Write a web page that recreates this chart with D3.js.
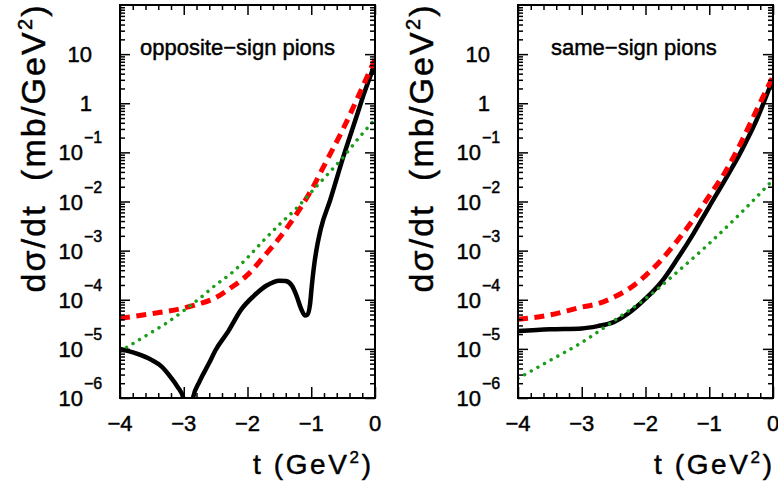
<!DOCTYPE html>
<html>
<head>
<meta charset="utf-8">
<script src="https://cdn.jsdelivr.net/npm/d3@7"></script>
<style>
  body { margin: 0; background: #fff; }
  svg { display: block; font-family: "Liberation Sans", Arial, sans-serif; }
  svg text { fill: #000; stroke: #000; stroke-width: 0.45px; }
</style>
</head>
<body>
<div id="chart"></div>
<script>
// dsigma/dt (mb/GeV^2) versus t (GeV^2)

// opposite-sign pions
const oppSolidT = [-4, -3.75, -3.5, -3.35, -3.2, -3.1, -3.0, -2.93, -2.86, -2.75, -2.6, -2.5, -2.3, -2.1, -1.9, -1.7, -1.5, -1.4, -1.3, -1.23, -1.16, -1.1, -1.06, -1.02, -0.99, -0.95, -0.9, -0.85, -0.7, -0.5, -0.3, -0.15, 0];
const oppSolid = [1.0e-5, 8.1e-6, 5.9e-6, 4.4e-6, 2.6e-6, 1.7e-6, 9.5e-7, 3e-8, 9.5e-7, 2.2e-6, 5.2e-6, 9.5e-6, 2.3e-5, 6.3e-5, 1.2e-4, 1.95e-4, 2.45e-4, 2.4e-4, 1.9e-4, 1.2e-4, 6.6e-5, 4.8e-5, 5.0e-5, 7.9e-5, 2.0e-4, 5.6e-4, 1.4e-3, 2.8e-3, 1.1e-2, 7.9e-2, 0.49, 1.9, 6.3];
const oppDashedT = [-4, -3.5, -3, -2.75, -2.5, -2.25, -2, -1.75, -1.5, -1.25, -1, -0.75, -0.5, -0.25, 0];
const oppDashed = [4.2e-5, 5.2e-5, 6.8e-5, 8.3e-5, 1.1e-4, 1.8e-4, 3.2e-4, 7.4e-4, 1.8e-3, 5.1e-3, 1.7e-2, 7.1e-2, 0.30, 1.5, 7.9];
const oppDottedT = [-4, -3.5, -3.25, -3, -2.75, -2.5, -2.25, -2, -1.75, -1.5, -1.25, -1, -0.75, -0.5, -0.25, 0];
const oppDotted = [8.9e-6, 2.2e-5, 3.5e-5, 6.0e-5, 1.07e-4, 2.0e-4, 3.5e-4, 7.2e-4, 1.6e-3, 3.4e-3, 6.9e-3, 1.55e-2, 3.5e-2, 7.9e-2, 0.2, 0.47];

// same-sign pions
const sameSolidT = [-4, -3.5, -3, -2.75, -2.5, -2.25, -2, -1.75, -1.5, -1.25, -1, -0.75, -0.5, -0.25, 0];
const sameSolid = [2.3e-5, 2.5e-5, 2.6e-5, 2.9e-5, 3.5e-5, 5.5e-5, 1.05e-4, 2.3e-4, 6.8e-4, 2.2e-3, 7.9e-3, 2.8e-2, 0.105, 0.48, 3.2];
const sameDashedT = [-4, -3.5, -3, -2.75, -2.5, -2.25, -2, -1.75, -1.5, -1.25, -1, -0.75, -0.5, -0.25, 0];
const sameDashed = [4.0e-5, 4.9e-5, 7.1e-5, 8.3e-5, 1.12e-4, 1.7e-4, 3.1e-4, 6.5e-4, 1.6e-3, 4.3e-3, 1.3e-2, 4.0e-2, 0.16, 0.76, 3.5];
const sameDottedT = [-4, -3.5, -3, -2.5, -2, -1.5, -1, -0.5, 0];
const sameDotted = [2.5e-6, 5.8e-6, 1.35e-5, 3.7e-5, 1.05e-4, 3.7e-4, 1.4e-3, 5.9e-3, 2.75e-2];

// axes
const xTickValues = [-4, -3, -2, -1, 0];
const xTickLabels = ['\u22124', '\u22123', '\u22122', '\u22121', '0'];
const yTickValues = [1e-6, 1e-5, 1e-4, 1e-3, 1e-2, 1e-1, 1, 10];
const yTickLabels = [['10', '\u22126'], ['10', '\u22125'], ['10', '\u22124'], ['10', '\u22123'], ['10', '\u22122'], ['10', '\u22121'], ['1', ''], ['10', '']];
const panelLabels = ['opposite\u2212sign pions', 'same\u2212sign pions'];

const width = 778;
const height = 488;
const plotTop = 5;
const plotBottom = 398;
const plotW = 255;

const panels = [
    { left: 120, label: panelLabels[0], labelX: 140, ytX: 45, xtEnd: 371,
      series: [[oppSolidT, oppSolid], [oppDashedT, oppDashed], [oppDottedT, oppDotted]] },
    { left: 518, label: panelLabels[1], labelX: 551, ytX: 433, xtEnd: 772,
      series: [[sameSolidT, sameSolid], [sameDashedT, sameDashed], [sameDottedT, sameDotted]] }
];

const styles = [
    { stroke: '#000', width: 4.5, dash: null, cap: 'butt' },
    { stroke: '#ff0000', width: 5, dash: '10,6.5', cap: 'butt' },
    { stroke: '#1a9e1a', width: 3.5, dash: '0.01,7.6', cap: 'round' }
];

const svg = d3.select('#chart')
    .append('svg')
    .attr('width', width)
    .attr('height', height);

const yScale = d3.scaleLog()
    .domain([1e-6, 100])
    .range([plotBottom, plotTop]);

const yMinor = [];
yTickValues.forEach(d => {
    for (let k = 2; k <= 9; k++) yMinor.push(d * k);
});
const xMinor = d3.range(-4, 0.001, 0.2).filter(d => Math.abs(d - Math.round(d)) > 0.01);

panels.forEach((p, i) => {
    const xScale = d3.scaleLinear()
        .domain([-4, 0])
        .range([p.left, p.left + plotW]);

    svg.append('clipPath')
        .attr('id', `clip${i}`)
        .append('rect')
        .attr('x', p.left)
        .attr('y', plotTop)
        .attr('width', plotW)
        .attr('height', plotBottom - plotTop);

    const curves = svg.append('g').attr('clip-path', `url(#clip${i})`);
    const line = d3.line()
        .x(d => xScale(d[0]))
        .y(d => yScale(d[1]))
        .curve(d3.curveMonotoneX);

    p.series.forEach((s, j) => {
        const pts = s[0].map((t, k) => [t, s[1][k]]);
        const st = styles[j];
        curves.append('path')
            .attr('d', line(pts))
            .attr('fill', 'none')
            .attr('stroke', st.stroke)
            .attr('stroke-width', st.width)
            .attr('stroke-linecap', st.cap)
            .attr('stroke-linejoin', 'round')
            .attr('stroke-dasharray', st.dash);
    });

    // ticks, all pointing inwards
    const ax = (gen, tx, ty, vals, size) => {
        svg.append('g')
            .attr('transform', `translate(${tx},${ty})`)
            .call(gen.tickValues(vals).tickSize(size).tickFormat(''))
            .call(a => a.select('.domain').remove())
            .call(a => a.selectAll('.tick line').attr('stroke-width', 1.5));
    };
    ax(d3.axisLeft(yScale), p.left, 0, yTickValues, -10);
    ax(d3.axisLeft(yScale), p.left, 0, yMinor, -5);
    ax(d3.axisRight(yScale), p.left + plotW, 0, yTickValues, -10);
    ax(d3.axisRight(yScale), p.left + plotW, 0, yMinor, -5);
    ax(d3.axisBottom(xScale), 0, plotBottom, xTickValues, -11);
    ax(d3.axisBottom(xScale), 0, plotBottom, xMinor, -5);
    ax(d3.axisTop(xScale), 0, plotTop, xTickValues, -10);
    ax(d3.axisTop(xScale), 0, plotTop, xMinor, -5);

    svg.append('rect')
        .attr('x', p.left)
        .attr('y', plotTop)
        .attr('width', plotW)
        .attr('height', plotBottom - plotTop)
        .attr('fill', 'none')
        .attr('stroke', '#000')
        .attr('stroke-width', 2);

    // y tick labels
    yTickValues.forEach((v, j) => {
        const ty = yScale(v);
        const base = yTickLabels[j][0];
        const exp = yTickLabels[j][1];
        svg.append('text')
            .attr('x', exp ? p.left - 37 : p.left - 28)
            .attr('y', ty + 8)
            .attr('text-anchor', 'end')
            .style('font-size', '22px')
            .text(base);
        if (exp) {
            svg.append('text')
                .attr('x', p.left - 36)
                .attr('y', ty - 9)
                .style('font-size', '16px')
                .text(exp);
        }
    });

    // x tick labels
    xTickValues.forEach((v, j) => {
        svg.append('text')
            .attr('x', xScale(v))
            .attr('y', 431)
            .attr('text-anchor', 'middle')
            .style('font-size', '22px')
            .text(xTickLabels[j]);
    });

    // panel label
    svg.append('text')
        .attr('x', p.labelX)
        .attr('y', 55)
        .style('font-size', '22px')
        .text(p.label);

    // y title
    const yt = svg.append('text')
        .attr('transform', `translate(${p.ytX},149) rotate(-90)`)
        .attr('text-anchor', 'middle')
        .attr('textLength', 287)
        .attr('lengthAdjust', 'spacing')
        .style('font-size', '34px')
        .style('white-space', 'pre');
    yt.append('tspan').text('d\u03c3/dt  (mb/GeV');
    yt.append('tspan').attr('dy', -13).style('font-size', '20px').text('2');
    yt.append('tspan').attr('dy', 13).text(')');

    // x title
    const xt = svg.append('text')
        .attr('x', p.xtEnd)
        .attr('y', 474)
        .attr('text-anchor', 'end')
        .attr('textLength', 118)
        .attr('lengthAdjust', 'spacing')
        .style('font-size', '28px')
        .style('white-space', 'pre');
    xt.append('tspan').text('t (GeV');
    xt.append('tspan').attr('dy', -11).style('font-size', '17px').text('2');
    xt.append('tspan').attr('dy', 11).text(')');
});
</script>
</body>
</html>
